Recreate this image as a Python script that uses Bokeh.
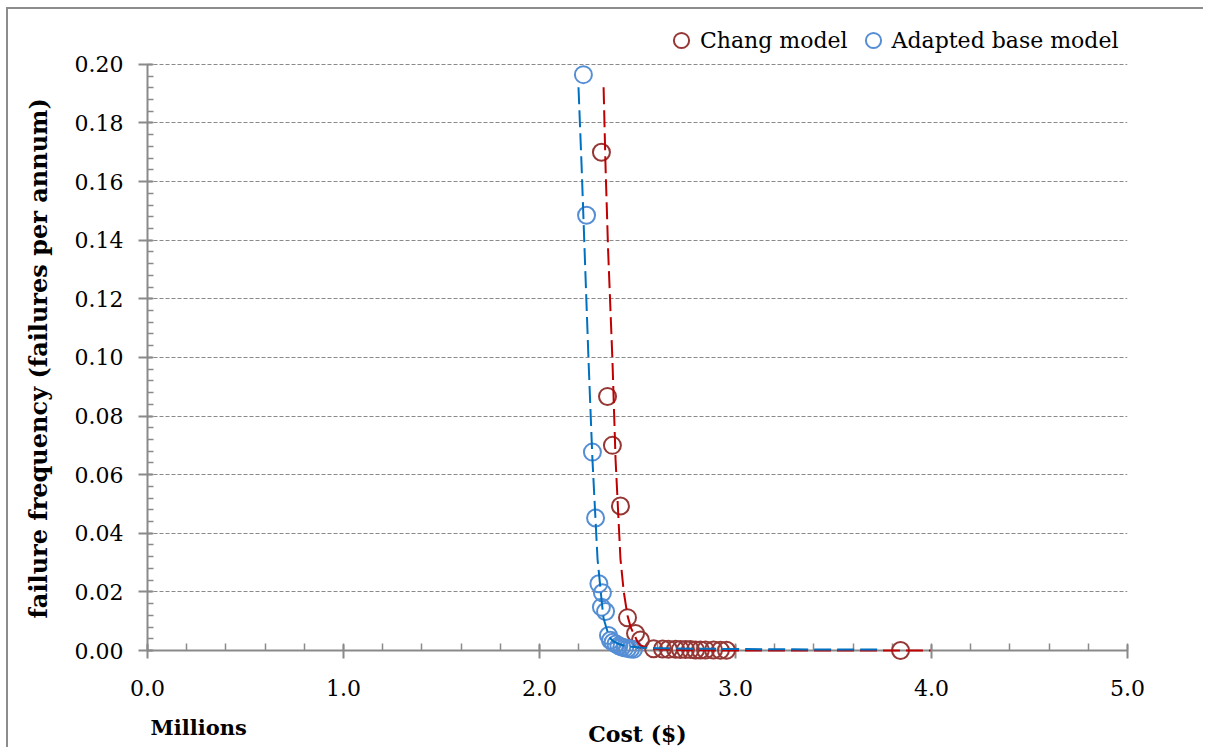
import math
from bokeh.plotting import figure
from bokeh.models import (Range1d, SingleIntervalTicker, PrintfTickFormatter, Legend,
                          LegendItem)
from bokeh.core.properties import value
from bokeh.embed import file_html
from bokeh.resources import INLINE

# ---- data (cost in millions of $, failure frequency per annum) ----
chang_cost = [2.316, 2.347, 2.372, 2.413, 2.449, 2.490, 2.515, 2.582, 2.628, 2.658, 2.694,
              2.719, 2.745, 2.770, 2.796, 2.821, 2.847, 2.888, 2.923, 2.954, 3.842]
chang_freq = [0.170, 0.0867, 0.070, 0.0493, 0.0112, 0.0058, 0.0036, 0.0006, 0.0005, 0.0004,
              0.0004, 0.0003, 0.0003, 0.0003, 0.0002, 0.0002, 0.0002, 0.0002, 0.0001, 0.0001, 0.0]

base_cost = [2.224, 2.240, 2.270, 2.286, 2.303, 2.321, 2.316, 2.337, 2.352, 2.362, 2.375,
             2.390, 2.405, 2.420, 2.435, 2.450, 2.465, 2.480]
base_freq = [0.1965, 0.1485, 0.0677, 0.0452, 0.0228, 0.0197, 0.0148, 0.0133, 0.0051, 0.0035,
             0.0028, 0.0022, 0.0016, 0.0012, 0.0009, 0.0007, 0.0005, 0.0004]

# trend lines
chang_trend_cost = [2.327, 2.337, 2.350, 2.372, 2.388, 2.413, 2.430, 2.449, 2.465, 2.480,
                    2.500, 2.515, 2.56, 2.62, 2.75, 3.0, 3.5, 3.995]
chang_trend_freq = [0.1922, 0.165, 0.1367, 0.0993, 0.0653, 0.0313, 0.0200, 0.0119, 0.0080,
                    0.0058, 0.0030, 0.0017, 0.0008, 0.0003, 0.0001, 0.0, 0.0, 0.0]
base_trend_cost = [2.199, 2.215, 2.230, 2.250, 2.270, 2.296, 2.306, 2.317, 2.327, 2.347, 2.362,
                   2.380, 2.398, 2.429, 2.47, 2.515, 2.6, 2.82, 3.2, 3.75]
base_trend_freq = [0.1922, 0.165, 0.1367, 0.0993, 0.0653, 0.0313, 0.0245, 0.0170, 0.0109,
                   0.0065, 0.0041, 0.0030, 0.0024, 0.0017, 0.0013, 0.0010, 0.0008, 0.0006,
                   0.0004, 0.0003]

series_names = ["Chang model", "Adapted base model"]
x_title = "Cost ($)"
x_unit = "Millions"
y_title = "failure frequency (failures per annum)"

SERIF = "DejaVu Serif"
GREY = "#8a8a8a"

# frame runs from the zero line up to just under the legend row; the y axis is bounded at 0.20
p = figure(width=1197, height=740, output_backend="svg", toolbar_location=None,
           x_range=Range1d(0, 5), y_range=Range1d(0, 0.21395),
           min_border_left=139, min_border_right=78, min_border_top=14, min_border_bottom=97,
           styles={"margin-left": "6px", "margin-top": "7px",
                   "border-left": "2px solid #8c8c8c", "border-top": "2px solid #8c8c8c"})
p.outline_line_color = None
p.background_fill_color = "white"
p.border_fill_color = "white"

# axes
xa = p.xaxis[0]
xa.ticker = SingleIntervalTicker(interval=1, num_minor_ticks=5)
xa.formatter = PrintfTickFormatter(format="%.1f")
xa.axis_label = x_title
xa.axis_label_text_font = SERIF
xa.axis_label_text_font_style = "bold"
xa.axis_label_text_font_size = "22px"
xa.axis_label_text_color = "black"
xa.axis_label_standoff = 22
ya = p.yaxis[0]
ya.ticker = SingleIntervalTicker(interval=0.02, num_minor_ticks=5)
ya.formatter = PrintfTickFormatter(format="%.2f")
ya.bounds = (0, 0.2)

for ax in (xa, ya):
    ax.axis_line_color = GREY
    ax.axis_line_width = 2
    ax.major_tick_line_color = GREY
    ax.minor_tick_line_color = GREY
    ax.major_tick_line_width = 2
    ax.minor_tick_line_width = 1.5
    ax.major_label_text_font = SERIF
    ax.major_label_text_font_size = "22px"
    ax.major_label_text_color = "black"
xa.major_tick_in = 6
xa.major_tick_out = 8
xa.minor_tick_in = 7
xa.minor_tick_out = 0
xa.major_label_standoff = 21
ya.major_tick_in = 5
ya.major_tick_out = 9
ya.minor_tick_in = 6
ya.minor_tick_out = 0
ya.major_label_standoff = 15

p.xgrid.grid_line_color = None
p.ygrid.grid_line_color = GREY
p.ygrid.grid_line_dash = "4 2"
p.ygrid.grid_line_width = 1
p.ygrid.bounds = (0, 5)

# scatter points (drawn at overlay level so circles at zero are not cut by the frame)
r_chang = p.scatter(chang_cost, chang_freq, marker="circle", size=17, fill_color=None,
                    line_color="#953735", line_width=2, level="overlay")
r_base = p.scatter(base_cost, base_freq, marker="circle", size=17, fill_color=None,
                   line_color="#558ED5", line_width=2, level="overlay")
# trend lines
p.line(chang_trend_cost, chang_trend_freq, line_color="#C00000", line_width=2,
       line_dash="17 6", level="overlay")
p.line(base_trend_cost, base_trend_freq, line_color="#0070C0", line_width=2,
       line_dash="17 6", level="overlay")

# y title centred on the 0-0.20 axis (text glyph at overlay level so it is not clipped)
p.text(x=[-0.556], y=[0.0997], text=[y_title], angle=math.pi / 2, level="overlay",
       text_align="center", text_baseline="middle", text_font=value(SERIF),
       text_font_style="bold", text_font_size="24px", text_color="black")
# unit note under the axis
p.text(x=[0.0153], y=[-0.0262], text=[x_unit], level="overlay",
       text_align="left", text_baseline="middle", text_font=value(SERIF),
       text_font_style="bold", text_font_size="21px", text_color="black")

legend = Legend(items=[LegendItem(label=series_names[0], renderers=[r_chang]),
                       LegendItem(label=series_names[1], renderers=[r_base])],
                orientation="horizontal", location=(515, 591),
                glyph_width=38, glyph_height=38, label_standoff=0, spacing=6,
                padding=0, margin=0, background_fill_alpha=0, border_line_color=None,
                label_text_font=SERIF, label_text_font_size="22px", label_height=38,
                label_text_color="black")
p.add_layout(legend)

open("out.html", "w").write(file_html(p, INLINE))
